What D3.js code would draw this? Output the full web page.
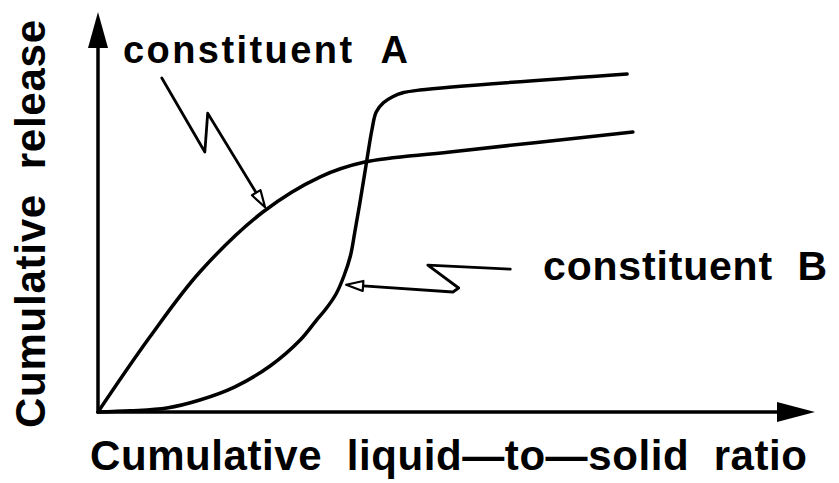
<!DOCTYPE html>
<html>
<head>
<meta charset="utf-8">
<script src="https://cdn.jsdelivr.net/npm/d3@7"></script>
<style>
  body { margin: 0; background: #fff; }
  text { font-family: "Liberation Sans", Arial, sans-serif; font-weight: bold; fill: #000; }
</style>
</head>
<body>
<div id="chart"></div>
<script>
// Cumulative release vs cumulative liquid-to-solid ratio (schematic)

// constituent A: steady release that levels off
const ratioA   = [0, 0.725, 1.42, 2.30, 3.10, 3.72, 4.91, 7.46];
const releaseA = [0, 0.188, 0.35, 0.50, 0.588, 0.625, 0.65, 0.70];

// constituent B: slow start, sudden jump, then plateau
const ratioB   = [0, 0.45, 0.96, 1.42, 1.91, 2.40, 2.82, 3.04, 3.18, 3.32, 3.43, 3.52, 3.58, 3.65, 3.75, 3.82, 3.88, 3.98, 4.11, 4.25, 4.49, 7.38];
const releaseB = [0, 0.003, 0.01, 0.03, 0.063, 0.115, 0.18, 0.228, 0.258, 0.295, 0.34, 0.39, 0.448, 0.52, 0.63, 0.705, 0.75, 0.773, 0.788, 0.798, 0.805, 0.845];

// labels
const curveLabels = ['constituent A', 'constituent B'];
const xLabel = 'Cumulative liquid\u2014to\u2014solid ratio';
const yLabel = 'Cumulative release';

// leader lines for the labels, in data units (last point = arrow tip)
const leaderA = [[0.89, 0.835], [1.49, 0.65], [1.53, 0.747], [2.33, 0.512]];
const leaderB = [[5.75, 0.357], [4.60, 0.367], [5.03, 0.31], [4.95, 0.30], [3.46, 0.318]];

const width = 839;
const height = 483;
const originX = 98, originY = 412;

const svg = d3.select('#chart').append('svg')
  .attr('width', width)
  .attr('height', height);

const x = d3.scaleLinear().domain([0, 10]).range([originX, 815]);
const y = d3.scaleLinear().domain([0, 1]).range([originY, 12]);

// axes drawn as arrows
const axisStroke = 3.5;
svg.append('line')
  .attr('x1', x(0)).attr('y1', y(0))
  .attr('x2', x(9.5)).attr('y2', y(0))
  .attr('stroke', '#000').attr('stroke-width', axisStroke);
svg.append('path')
  .attr('d', `M${x(10)},${y(0)} L${x(10) - 38},${y(0) - 10} L${x(10) - 38},${y(0) + 10} Z`)
  .attr('fill', '#000');

svg.append('line')
  .attr('x1', x(0)).attr('y1', y(0) + 1.5)
  .attr('x2', x(0)).attr('y2', y(0.95))
  .attr('stroke', '#000').attr('stroke-width', axisStroke);
svg.append('path')
  .attr('d', `M${x(0)},${y(1)} L${x(0) - 10},${y(1) + 36} L${x(0) + 10},${y(1) + 36} Z`)
  .attr('fill', '#000');

// curves
const line = d3.line()
  .x(d => x(d[0]))
  .y(d => y(d[1]))
  .curve(d3.curveCatmullRom.alpha(0.5));

const seriesA = ratioA.map((r, i) => [r, releaseA[i]]);
const seriesB = ratioB.map((r, i) => [r, releaseB[i]]);

[seriesA, seriesB].forEach(s => {
  svg.append('path')
    .attr('d', line(s))
    .attr('fill', 'none')
    .attr('stroke', '#000')
    .attr('stroke-width', 3.5)
    .attr('stroke-linecap', 'round')
    .attr('stroke-linejoin', 'round');
});

// leader lines with open arrowheads
function drawLeader(points) {
  const pts = points.map(p => [x(p[0]), y(p[1])]);
  const tip = pts[pts.length - 1];
  const prev = pts[pts.length - 2];
  const dx = tip[0] - prev[0], dy = tip[1] - prev[1];
  const len = Math.hypot(dx, dy);
  const ux = dx / len, uy = dy / len;
  const headLen = 17, headHalf = 5;
  const bx = tip[0] - ux * headLen, by = tip[1] - uy * headLen;

  svg.append('path')
    .attr('d', d3.line()(pts.slice(0, -1).concat([[bx, by]])))
    .attr('fill', 'none')
    .attr('stroke', '#000')
    .attr('stroke-width', 2.8)
    .attr('stroke-linejoin', 'round')
    .attr('stroke-linecap', 'round');

  svg.append('path')
    .attr('d', `M${tip[0]},${tip[1]} L${bx - uy * headHalf},${by + ux * headHalf} L${bx + uy * headHalf},${by - ux * headHalf} Z`)
    .attr('fill', '#fff')
    .attr('stroke', '#000')
    .attr('stroke-width', 2.2)
    .attr('stroke-linejoin', 'round');
}
drawLeader(leaderA);
drawLeader(leaderB);

// curve labels
svg.append('text')
  .attr('x', 123).attr('y', 63)
  .attr('font-size', 38)
  .attr('textLength', 285)
  .attr('lengthAdjust', 'spacing')
  .text(curveLabels[0].replace(' ', '\u00a0\u00a0'));

svg.append('text')
  .attr('x', 543).attr('y', 280)
  .attr('font-size', 41)
  .attr('textLength', 284)
  .attr('lengthAdjust', 'spacing')
  .text(curveLabels[1].replace(' ', '\u00a0\u00a0'));

// axis titles
svg.append('text')
  .attr('x', 90).attr('y', 470)
  .attr('font-size', 42)
  .attr('textLength', 717)
  .attr('lengthAdjust', 'spacing')
  .text(xLabel.replace(' ', '\u00a0\u00a0').replace(' ', '\u00a0\u00a0'));

svg.append('text')
  .attr('transform', 'translate(45,428) rotate(-90)')
  .attr('font-size', 42)
  .attr('textLength', 408)
  .attr('lengthAdjust', 'spacing')
  .text(yLabel.replace(' ', '\u00a0\u00a0'));
</script>
</body>
</html>
